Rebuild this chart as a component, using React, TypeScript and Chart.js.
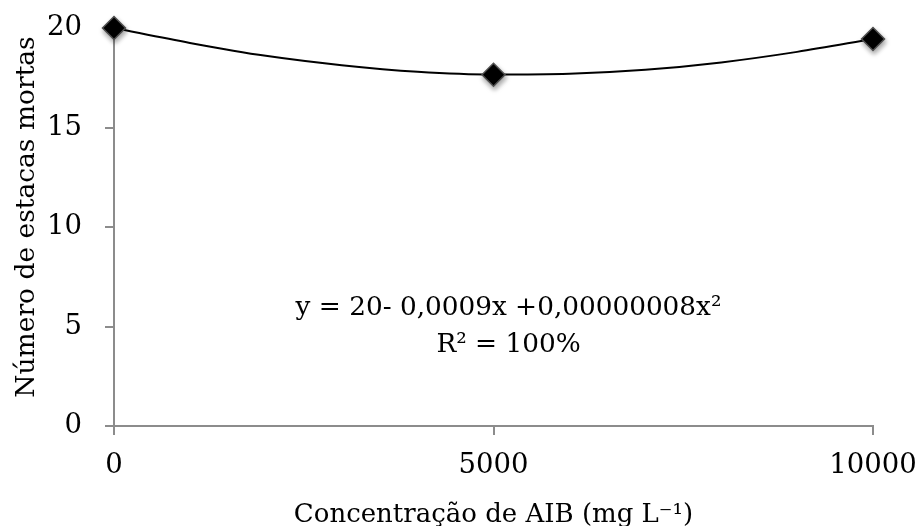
import React, { useEffect, useRef } from "react";
import { Chart, registerables } from "chart.js";

Chart.register(...registerables);

// Observed points (concentration of AIB, number of dead cuttings)
const concentrations = [0, 5000, 10000];
const deadCuttings = [20, 17.65, 19.45];

// Fitted trend curve
const trendX = [0, 1000, 2000, 3000, 4000, 5000, 6000, 7000, 8000, 9000, 10000];
const trendY = [20, 19.25, 18.6, 18.13, 17.8, 17.66, 17.7, 17.9, 18.27, 18.8, 19.45];

const xTicks = [0, 5000, 10000];
const yTicks = [0, 5, 10, 15, 20];

const xTitle = "Concentração de AIB (mg L⁻¹)";
const yTitle = "Número de estacas mortas";
const equationLines = ["y = 20- 0,0009x +0,00000008x²", "R² = 100%"];
const equationAnchorX = 5198;
const equationAnchorY = [5.9, 4.05];

const FONT = "'DejaVu Serif', serif";
const AXIS_GRAY = "#8c8c8c";

const textPlugin = {
  id: "extraText",
  afterDatasetsDraw(chart: any) {
    const { ctx, scales, chartArea } = chart;
    ctx.save();
    ctx.font = `26.3px ${FONT}`;
    ctx.fillStyle = "#000";
    ctx.textAlign = "center";
    ctx.textBaseline = "middle";
    equationLines.forEach((line, i) => {
      ctx.fillText(
        line,
        scales.x.getPixelForValue(equationAnchorX),
        scales.y.getPixelForValue(equationAnchorY[i])
      );
    });
    ctx.restore();

    // y-axis title
    ctx.save();
    ctx.font = `26.5px ${FONT}`;
    ctx.fillStyle = "#000";
    ctx.textAlign = "center";
    ctx.textBaseline = "alphabetic";
    ctx.translate(34, (chartArea.top + chartArea.bottom) / 2 - 10);
    ctx.rotate(-Math.PI / 2);
    ctx.fillText(yTitle, 0, 0);
    ctx.restore();
  },
};

const shadowPlugin = {
  id: "markerShadow",
  beforeDatasetDraw(chart: any, args: any) {
    if (args.index === 0) {
      const ctx = chart.ctx;
      ctx.save();
      ctx.shadowColor = "rgba(0,0,0,0.35)";
      ctx.shadowBlur = 5;
      ctx.shadowOffsetX = 1;
      ctx.shadowOffsetY = 3;
    }
  },
  afterDatasetDraw(chart: any, args: any) {
    if (args.index === 0) chart.ctx.restore();
  },
};

export default function App() {
  const canvasRef = useRef<HTMLCanvasElement | null>(null);

  useEffect(() => {
    if (!canvasRef.current) return;
    const chart = new Chart(canvasRef.current, {
      type: "scatter",
      data: {
        datasets: [
          {
            label: "Observado",
            data: concentrations.map((x, i) => ({ x, y: deadCuttings[i] })),
            pointStyle: "rectRot",
            pointRadius: 11.5,
            pointHoverRadius: 11.5,
            backgroundColor: "#000",
            borderColor: "#505050",
            borderWidth: 1.5,
            showLine: false,
            clip: false,
          },
          {
            label: "Tendência",
            data: trendX.map((x, i) => ({ x, y: trendY[i] })),
            showLine: true,
            borderColor: "#000",
            borderWidth: 2,
            pointRadius: 0,
            tension: 0.4,
            cubicInterpolationMode: "monotone",
            clip: false,
          },
        ],
      },
      options: {
        animation: false,
        responsive: false,
        events: [],
        layout: { padding: { top: 28, right: 46, left: 0, bottom: 0 } },
        plugins: {
          legend: { display: false },
          tooltip: { enabled: false },
        },
        scales: {
          x: {
            type: "linear",
            min: 0,
            max: 10000,
            afterBuildTicks: (scale: any) => {
              scale.ticks = xTicks.map((v) => ({ value: v }));
            },
            afterFit: (scale: any) => {
              scale.height = 100;
              scale.paddingLeft = 0;
              scale.paddingRight = 0;
            },
            ticks: {
              callback: (v: any) => String(v),
              color: "#000",
              font: { family: FONT, size: 27.5 },
              padding: 14,
              maxRotation: 0,
            },
            grid: {
              drawOnChartArea: false,
              drawTicks: true,
              tickLength: 9,
              color: AXIS_GRAY,
              lineWidth: 2,
            },
            border: { display: true, color: AXIS_GRAY, width: 2 },
            title: {
              display: true,
              text: xTitle,
              color: "#000",
              font: { family: FONT, size: 26 },
              padding: { top: 0, bottom: -5 },
            },
          },
          y: {
            type: "linear",
            min: 0,
            max: 20,
            afterBuildTicks: (scale: any) => {
              scale.ticks = yTicks.map((v) => ({ value: v }));
            },
            afterFit: (scale: any) => {
              scale.width = 114;
              scale.paddingTop = 0;
              scale.paddingBottom = 0;
            },
            ticks: {
              callback: (v: any) => String(v),
              color: "#000",
              font: { family: FONT, size: 27.5 },
              padding: 23,
            },
            grid: {
              drawOnChartArea: false,
              drawTicks: true,
              tickLength: 9,
              color: AXIS_GRAY,
              lineWidth: 2,
            },
            border: { display: true, color: AXIS_GRAY, width: 2 },
            title: { display: false, text: yTitle },
          },
        },
      },
      plugins: [textPlugin, shadowPlugin],
    } as any);
    return () => chart.destroy();
  }, []);

  return (
    <div style={{ position: "absolute", left: 0, top: 0, width: 919, height: 526, background: "#fff" }}>
      <canvas ref={canvasRef} width={919} height={526} />
    </div>
  );
}
